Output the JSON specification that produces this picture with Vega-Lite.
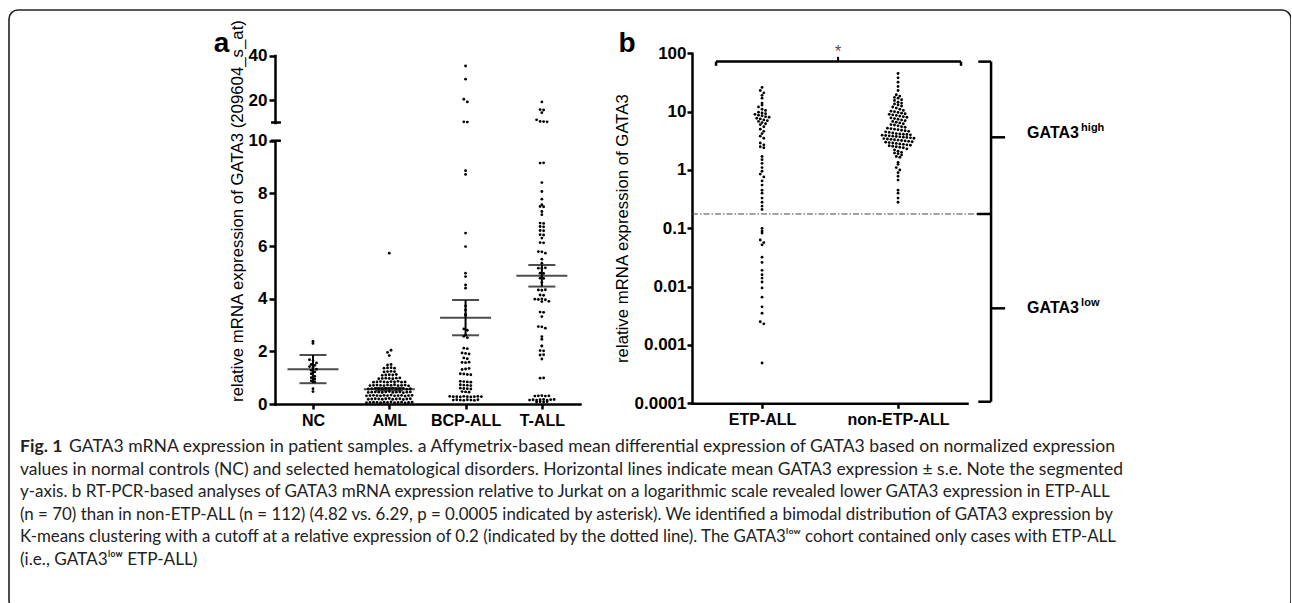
{
  "$schema": "https://vega.github.io/schema/vega-lite/v6.json",
  "width": 1282,
  "height": 600,
  "autosize": {"type": "none"},
  "padding": {"left": 9, "top": 10, "right": 0, "bottom": 0},
  "background": "white",
  "config": {
    "view": {"stroke": "#222222", "strokeWidth": 1.6, "cornerRadius": 9},
    "axis": {"grid": false, "domainColor": "black", "tickColor": "black", "labelColor": "black", "labelFont": "Liberation Sans", "labelFontWeight": "bold", "labelFlush": false, "labelOverlap": false, "labelBound": false, "domainCap": "square"},
    "text": {"font": "Liberation Sans"}
  },
  "datasets": {
    "pa": [
      {"g":"NC","v":2.38},{"g":"NC","v":2.3},{"g":"NC","v":1.68},{"g":"NC","v":1.64},{"g":"NC","v":1.56},{"g":"NC","v":1.5},{"g":"NC","v":1.47},{"g":"NC","v":1.42},{"g":"NC","v":1.4},{"g":"NC","v":1.32},{"g":"NC","v":1.28},{"g":"NC","v":1.22},{"g":"NC","v":1.15},{"g":"NC","v":1.05},{"g":"NC","v":1.0},{"g":"NC","v":0.95},{"g":"NC","v":0.88},{"g":"NC","v":0.84},{"g":"NC","v":0.58},{"g":"NC","v":0.47},
      {"g":"AML","v":0.05},{"g":"AML","v":0.06},{"g":"AML","v":0.07},{"g":"AML","v":0.06},{"g":"AML","v":0.05},{"g":"AML","v":0.07},{"g":"AML","v":0.06},{"g":"AML","v":0.08},{"g":"AML","v":0.05},{"g":"AML","v":0.06},{"g":"AML","v":0.07},{"g":"AML","v":0.04},{"g":"AML","v":0.06},{"g":"AML","v":0.07},
      {"g":"AML","v":0.18},{"g":"AML","v":0.19},{"g":"AML","v":0.2},{"g":"AML","v":0.19},{"g":"AML","v":0.18},{"g":"AML","v":0.2},{"g":"AML","v":0.21},{"g":"AML","v":0.18},{"g":"AML","v":0.19},{"g":"AML","v":0.2},{"g":"AML","v":0.17},{"g":"AML","v":0.19},{"g":"AML","v":0.2},
      {"g":"AML","v":0.31},{"g":"AML","v":0.32},{"g":"AML","v":0.33},{"g":"AML","v":0.32},{"g":"AML","v":0.31},{"g":"AML","v":0.33},{"g":"AML","v":0.32},{"g":"AML","v":0.34},{"g":"AML","v":0.31},{"g":"AML","v":0.32},{"g":"AML","v":0.33},{"g":"AML","v":0.3},{"g":"AML","v":0.32},{"g":"AML","v":0.33},
      {"g":"AML","v":0.44},{"g":"AML","v":0.45},{"g":"AML","v":0.46},{"g":"AML","v":0.45},{"g":"AML","v":0.44},{"g":"AML","v":0.46},{"g":"AML","v":0.47},{"g":"AML","v":0.44},{"g":"AML","v":0.45},{"g":"AML","v":0.46},{"g":"AML","v":0.43},{"g":"AML","v":0.45},{"g":"AML","v":0.46},
      {"g":"AML","v":0.57},{"g":"AML","v":0.58},{"g":"AML","v":0.59},{"g":"AML","v":0.58},{"g":"AML","v":0.57},{"g":"AML","v":0.59},{"g":"AML","v":0.58},{"g":"AML","v":0.6},{"g":"AML","v":0.57},{"g":"AML","v":0.58},{"g":"AML","v":0.59},{"g":"AML","v":0.56},{"g":"AML","v":0.58},
      {"g":"AML","v":0.7},{"g":"AML","v":0.71},{"g":"AML","v":0.72},{"g":"AML","v":0.71},{"g":"AML","v":0.7},{"g":"AML","v":0.72},{"g":"AML","v":0.71},{"g":"AML","v":0.73},{"g":"AML","v":0.7},{"g":"AML","v":0.71},{"g":"AML","v":0.72},{"g":"AML","v":0.69},
      {"g":"AML","v":0.83},{"g":"AML","v":0.84},{"g":"AML","v":0.85},{"g":"AML","v":0.84},{"g":"AML","v":0.83},{"g":"AML","v":0.85},{"g":"AML","v":0.84},{"g":"AML","v":0.86},{"g":"AML","v":0.83},{"g":"AML","v":0.84},
      {"g":"AML","v":0.96},{"g":"AML","v":0.97},{"g":"AML","v":0.98},{"g":"AML","v":0.97},{"g":"AML","v":0.96},{"g":"AML","v":0.98},{"g":"AML","v":0.99},
      {"g":"AML","v":1.09},{"g":"AML","v":1.1},{"g":"AML","v":1.11},{"g":"AML","v":1.1},{"g":"AML","v":1.12},
      {"g":"AML","v":1.22},{"g":"AML","v":1.23},{"g":"AML","v":1.24},{"g":"AML","v":1.23},
      {"g":"AML","v":1.36},{"g":"AML","v":1.37},{"g":"AML","v":1.38},{"g":"AML","v":1.36},
      {"g":"AML","v":1.48},{"g":"AML","v":1.5},{"g":"AML","v":1.84},{"g":"AML","v":1.96},{"g":"AML","v":2.04},{"g":"AML","v":5.73},
      {"g":"BCP-ALL","v":35.3},{"g":"BCP-ALL","v":29.4},{"g":"BCP-ALL","v":20.4},{"g":"BCP-ALL","v":19.2},{"g":"BCP-ALL","v":10.3},{"g":"BCP-ALL","v":10.2},{"g":"BCP-ALL","v":8.86},{"g":"BCP-ALL","v":8.72},{"g":"BCP-ALL","v":6.49},{"g":"BCP-ALL","v":5.98},{"g":"BCP-ALL","v":4.97},{"g":"BCP-ALL","v":4.84},{"g":"BCP-ALL","v":4.52},{"g":"BCP-ALL","v":4.4},{"g":"BCP-ALL","v":3.73},{"g":"BCP-ALL","v":3.57},{"g":"BCP-ALL","v":3.4},{"g":"BCP-ALL","v":3.36},{"g":"BCP-ALL","v":2.85},{"g":"BCP-ALL","v":2.8},{"g":"BCP-ALL","v":2.62},{"g":"BCP-ALL","v":2.57},{"g":"BCP-ALL","v":2.52},
      {"g":"BCP-ALL","v":2.12},{"g":"BCP-ALL","v":2.1},{"g":"BCP-ALL","v":1.94},{"g":"BCP-ALL","v":1.92},{"g":"BCP-ALL","v":1.9},{"g":"BCP-ALL","v":1.75},{"g":"BCP-ALL","v":1.72},{"g":"BCP-ALL","v":1.58},{"g":"BCP-ALL","v":1.57},{"g":"BCP-ALL","v":1.59},{"g":"BCP-ALL","v":1.31},{"g":"BCP-ALL","v":1.33},{"g":"BCP-ALL","v":1.35},{"g":"BCP-ALL","v":1.15},{"g":"BCP-ALL","v":1.14},{"g":"BCP-ALL","v":1.12},{"g":"BCP-ALL","v":1.11},{"g":"BCP-ALL","v":0.86},{"g":"BCP-ALL","v":0.85},{"g":"BCP-ALL","v":0.84},{"g":"BCP-ALL","v":0.83},{"g":"BCP-ALL","v":0.73},{"g":"BCP-ALL","v":0.72},{"g":"BCP-ALL","v":0.71},{"g":"BCP-ALL","v":0.7},{"g":"BCP-ALL","v":0.6},{"g":"BCP-ALL","v":0.59},{"g":"BCP-ALL","v":0.58},{"g":"BCP-ALL","v":0.57},{"g":"BCP-ALL","v":0.47},{"g":"BCP-ALL","v":0.46},{"g":"BCP-ALL","v":0.45},
      {"g":"BCP-ALL","v":0.29},{"g":"BCP-ALL","v":0.28},{"g":"BCP-ALL","v":0.28},{"g":"BCP-ALL","v":0.27},{"g":"BCP-ALL","v":0.29},{"g":"BCP-ALL","v":0.28},{"g":"BCP-ALL","v":0.27},{"g":"BCP-ALL","v":0.28},{"g":"BCP-ALL","v":0.29},{"g":"BCP-ALL","v":0.28},{"g":"BCP-ALL","v":0.15},{"g":"BCP-ALL","v":0.16},{"g":"BCP-ALL","v":0.15},{"g":"BCP-ALL","v":0.14},{"g":"BCP-ALL","v":0.16},{"g":"BCP-ALL","v":0.15},{"g":"BCP-ALL","v":0.14},{"g":"BCP-ALL","v":0.16},
      {"g":"T-ALL","v":19.2},{"g":"T-ALL","v":15.8},{"g":"T-ALL","v":15.6},{"g":"T-ALL","v":14.4},{"g":"T-ALL","v":11.2},{"g":"T-ALL","v":10.5},{"g":"T-ALL","v":10.4},{"g":"T-ALL","v":10.3},
      {"g":"T-ALL","v":9.15},{"g":"T-ALL","v":9.16},{"g":"T-ALL","v":8.41},{"g":"T-ALL","v":8.07},{"g":"T-ALL","v":7.78},{"g":"T-ALL","v":7.57},{"g":"T-ALL","v":7.5},{"g":"T-ALL","v":7.49},{"g":"T-ALL","v":7.31},{"g":"T-ALL","v":7.19},{"g":"T-ALL","v":6.87},{"g":"T-ALL","v":6.86},{"g":"T-ALL","v":6.74},{"g":"T-ALL","v":6.73},{"g":"T-ALL","v":6.59},{"g":"T-ALL","v":6.58},{"g":"T-ALL","v":6.43},{"g":"T-ALL","v":6.42},{"g":"T-ALL","v":6.3},{"g":"T-ALL","v":6.13},{"g":"T-ALL","v":6.12},{"g":"T-ALL","v":5.79},{"g":"T-ALL","v":5.78},{"g":"T-ALL","v":5.73},{"g":"T-ALL","v":5.5},{"g":"T-ALL","v":5.35},{"g":"T-ALL","v":5.16},{"g":"T-ALL","v":5.15},{"g":"T-ALL","v":5.17},{"g":"T-ALL","v":4.97},{"g":"T-ALL","v":4.96},{"g":"T-ALL","v":4.78},{"g":"T-ALL","v":4.77},{"g":"T-ALL","v":4.61},
      {"g":"T-ALL","v":4.33},{"g":"T-ALL","v":4.32},{"g":"T-ALL","v":4.34},{"g":"T-ALL","v":4.14},{"g":"T-ALL","v":4.13},{"g":"T-ALL","v":3.98},{"g":"T-ALL","v":3.97},{"g":"T-ALL","v":3.99},{"g":"T-ALL","v":3.96},{"g":"T-ALL","v":3.9},{"g":"T-ALL","v":3.89},{"g":"T-ALL","v":3.49},{"g":"T-ALL","v":3.48},{"g":"T-ALL","v":3.32},{"g":"T-ALL","v":2.94},{"g":"T-ALL","v":2.93},{"g":"T-ALL","v":2.88},{"g":"T-ALL","v":2.56},{"g":"T-ALL","v":2.46},{"g":"T-ALL","v":2.2},{"g":"T-ALL","v":2.21},{"g":"T-ALL","v":2.03},{"g":"T-ALL","v":2.02},{"g":"T-ALL","v":1.86},{"g":"T-ALL","v":1.87},{"g":"T-ALL","v":1.71},{"g":"T-ALL","v":0.98},{"g":"T-ALL","v":0.99},
      {"g":"T-ALL","v":0.3},{"g":"T-ALL","v":0.31},{"g":"T-ALL","v":0.32},{"g":"T-ALL","v":0.3},{"g":"T-ALL","v":0.31},{"g":"T-ALL","v":0.15},{"g":"T-ALL","v":0.16},{"g":"T-ALL","v":0.15},{"g":"T-ALL","v":0.16},{"g":"T-ALL","v":0.17},{"g":"T-ALL","v":0.15},{"g":"T-ALL","v":0.16},{"g":"T-ALL","v":0.17},{"g":"T-ALL","v":0.08},{"g":"T-ALL","v":0.09},{"g":"T-ALL","v":0.08},{"g":"T-ALL","v":0.09}
    ],
    "pam": [
      {"g":"NC","m":1.32,"lo":0.79,"hi":1.86},
      {"g":"AML","m":0.56,"lo":0.51,"hi":0.61},
      {"g":"BCP-ALL","m":3.28,"lo":2.61,"hi":3.95},
      {"g":"T-ALL","m":4.87,"lo":4.46,"hi":5.28}
    ],
    "pb": [
      {"g":"ETP-ALL","v":26},{"g":"ETP-ALL","v":23},{"g":"ETP-ALL","v":21},{"g":"ETP-ALL","v":19},{"g":"ETP-ALL","v":17},{"g":"ETP-ALL","v":14},{"g":"ETP-ALL","v":13},{"g":"ETP-ALL","v":12},{"g":"ETP-ALL","v":11},{"g":"ETP-ALL","v":10.5},
      {"g":"ETP-ALL","v":9.8},{"g":"ETP-ALL","v":9.5},{"g":"ETP-ALL","v":9.2},{"g":"ETP-ALL","v":9},{"g":"ETP-ALL","v":8.7},{"g":"ETP-ALL","v":8.5},{"g":"ETP-ALL","v":8.2},{"g":"ETP-ALL","v":8},{"g":"ETP-ALL","v":7.7},{"g":"ETP-ALL","v":7.5},{"g":"ETP-ALL","v":7.2},{"g":"ETP-ALL","v":7},{"g":"ETP-ALL","v":6.8},{"g":"ETP-ALL","v":6.5},{"g":"ETP-ALL","v":6.2},{"g":"ETP-ALL","v":6},
      {"g":"ETP-ALL","v":5.5},{"g":"ETP-ALL","v":5},{"g":"ETP-ALL","v":4.6},{"g":"ETP-ALL","v":4.2},{"g":"ETP-ALL","v":3.8},{"g":"ETP-ALL","v":3.5},{"g":"ETP-ALL","v":2.9},{"g":"ETP-ALL","v":2.7},{"g":"ETP-ALL","v":2.5},{"g":"ETP-ALL","v":2.4},{"g":"ETP-ALL","v":1.7},{"g":"ETP-ALL","v":1.5},{"g":"ETP-ALL","v":1.3},{"g":"ETP-ALL","v":1.1},
      {"g":"ETP-ALL","v":0.95},{"g":"ETP-ALL","v":0.85},{"g":"ETP-ALL","v":0.76},{"g":"ETP-ALL","v":0.65},{"g":"ETP-ALL","v":0.55},{"g":"ETP-ALL","v":0.45},{"g":"ETP-ALL","v":0.4},{"g":"ETP-ALL","v":0.33},{"g":"ETP-ALL","v":0.28},{"g":"ETP-ALL","v":0.24},{"g":"ETP-ALL","v":0.21},
      {"g":"ETP-ALL","v":0.1},{"g":"ETP-ALL","v":0.09},{"g":"ETP-ALL","v":0.083},{"g":"ETP-ALL","v":0.063},{"g":"ETP-ALL","v":0.057},{"g":"ETP-ALL","v":0.052},{"g":"ETP-ALL","v":0.032},{"g":"ETP-ALL","v":0.026},{"g":"ETP-ALL","v":0.019},{"g":"ETP-ALL","v":0.016},{"g":"ETP-ALL","v":0.014},{"g":"ETP-ALL","v":0.012},{"g":"ETP-ALL","v":0.0095},{"g":"ETP-ALL","v":0.0066},{"g":"ETP-ALL","v":0.0045},{"g":"ETP-ALL","v":0.0035},{"g":"ETP-ALL","v":0.0025},{"g":"ETP-ALL","v":0.0023},{"g":"ETP-ALL","v":0.00049},
      {"g":"non-ETP-ALL","v":45},{"g":"non-ETP-ALL","v":38},{"g":"non-ETP-ALL","v":32},{"g":"non-ETP-ALL","v":27},{"g":"non-ETP-ALL","v":23},{"g":"non-ETP-ALL","v":19.5},{"g":"non-ETP-ALL","v":18.5},{"g":"non-ETP-ALL","v":17.5},{"g":"non-ETP-ALL","v":17},{"g":"non-ETP-ALL","v":16},
      {"g":"non-ETP-ALL","v":15.5},{"g":"non-ETP-ALL","v":14.5},{"g":"non-ETP-ALL","v":14},{"g":"non-ETP-ALL","v":13.5},{"g":"non-ETP-ALL","v":13},{"g":"non-ETP-ALL","v":12.5},{"g":"non-ETP-ALL","v":12},{"g":"non-ETP-ALL","v":11.5},{"g":"non-ETP-ALL","v":11},{"g":"non-ETP-ALL","v":10.5},
      {"g":"non-ETP-ALL","v":10.2},{"g":"non-ETP-ALL","v":10},{"g":"non-ETP-ALL","v":9.7},{"g":"non-ETP-ALL","v":9.4},{"g":"non-ETP-ALL","v":9.2},{"g":"non-ETP-ALL","v":9},{"g":"non-ETP-ALL","v":8.8},{"g":"non-ETP-ALL","v":8.6},{"g":"non-ETP-ALL","v":8.4},{"g":"non-ETP-ALL","v":8.2},
      {"g":"non-ETP-ALL","v":8},{"g":"non-ETP-ALL","v":7.8},{"g":"non-ETP-ALL","v":7.6},{"g":"non-ETP-ALL","v":7.4},{"g":"non-ETP-ALL","v":7.2},{"g":"non-ETP-ALL","v":7},{"g":"non-ETP-ALL","v":6.8},{"g":"non-ETP-ALL","v":6.6},{"g":"non-ETP-ALL","v":6.4},{"g":"non-ETP-ALL","v":6.2},
      {"g":"non-ETP-ALL","v":6},{"g":"non-ETP-ALL","v":5.9},{"g":"non-ETP-ALL","v":5.7},{"g":"non-ETP-ALL","v":5.5},{"g":"non-ETP-ALL","v":5.4},{"g":"non-ETP-ALL","v":5.2},{"g":"non-ETP-ALL","v":5.1},{"g":"non-ETP-ALL","v":5},{"g":"non-ETP-ALL","v":4.9},{"g":"non-ETP-ALL","v":4.8},
      {"g":"non-ETP-ALL","v":4.7},{"g":"non-ETP-ALL","v":4.6},{"g":"non-ETP-ALL","v":4.5},{"g":"non-ETP-ALL","v":4.4},{"g":"non-ETP-ALL","v":4.3},{"g":"non-ETP-ALL","v":4.2},{"g":"non-ETP-ALL","v":4.15},{"g":"non-ETP-ALL","v":4.1},{"g":"non-ETP-ALL","v":4.05},{"g":"non-ETP-ALL","v":4},
      {"g":"non-ETP-ALL","v":3.95},{"g":"non-ETP-ALL","v":3.9},{"g":"non-ETP-ALL","v":3.85},{"g":"non-ETP-ALL","v":3.8},{"g":"non-ETP-ALL","v":3.75},{"g":"non-ETP-ALL","v":3.7},{"g":"non-ETP-ALL","v":3.65},{"g":"non-ETP-ALL","v":3.6},{"g":"non-ETP-ALL","v":3.55},
      {"g":"non-ETP-ALL","v":3.5},{"g":"non-ETP-ALL","v":3.45},{"g":"non-ETP-ALL","v":3.4},{"g":"non-ETP-ALL","v":3.35},{"g":"non-ETP-ALL","v":3.3},{"g":"non-ETP-ALL","v":3.25},{"g":"non-ETP-ALL","v":3.2},{"g":"non-ETP-ALL","v":3.15},{"g":"non-ETP-ALL","v":3.1},{"g":"non-ETP-ALL","v":3.05},
      {"g":"non-ETP-ALL","v":3},{"g":"non-ETP-ALL","v":2.95},{"g":"non-ETP-ALL","v":2.9},{"g":"non-ETP-ALL","v":2.85},{"g":"non-ETP-ALL","v":2.8},{"g":"non-ETP-ALL","v":2.75},{"g":"non-ETP-ALL","v":2.7},{"g":"non-ETP-ALL","v":2.65},{"g":"non-ETP-ALL","v":2.6},
      {"g":"non-ETP-ALL","v":2.55},{"g":"non-ETP-ALL","v":2.5},{"g":"non-ETP-ALL","v":2.45},{"g":"non-ETP-ALL","v":2.4},{"g":"non-ETP-ALL","v":2.3},{"g":"non-ETP-ALL","v":2.2},{"g":"non-ETP-ALL","v":2.1},{"g":"non-ETP-ALL","v":2},{"g":"non-ETP-ALL","v":1.95},{"g":"non-ETP-ALL","v":1.9},
      {"g":"non-ETP-ALL","v":1.8},{"g":"non-ETP-ALL","v":1.7},{"g":"non-ETP-ALL","v":1.65},{"g":"non-ETP-ALL","v":1.35},{"g":"non-ETP-ALL","v":1.25},{"g":"non-ETP-ALL","v":1.1},{"g":"non-ETP-ALL","v":1},{"g":"non-ETP-ALL","v":0.9},{"g":"non-ETP-ALL","v":0.78},{"g":"non-ETP-ALL","v":0.67},
      {"g":"non-ETP-ALL","v":0.45},{"g":"non-ETP-ALL","v":0.4},{"g":"non-ETP-ALL","v":0.33},{"g":"non-ETP-ALL","v":0.28}
    ],
    "cap": [
      {"ln":1,"t":"GATA3 mRNA expression in patient samples. a Affymetrix-based mean differential expression of GATA3 based on normalized expression"},
      {"ln":2,"t":"values in normal controls (NC) and selected hematological disorders. Horizontal lines indicate mean GATA3 expression ± s.e. Note the segmented"},
      {"ln":3,"t":"y-axis. b RT-PCR-based analyses of GATA3 mRNA expression relative to Jurkat on a logarithmic scale revealed lower GATA3 expression in ETP-ALL"},
      {"ln":4,"t":"(n = 70) than in non-ETP-ALL (n = 112) (4.82 vs. 6.29, p = 0.0005 indicated by asterisk). We identified a bimodal distribution of GATA3 expression by"},
      {"ln":5,"t":"K-means clustering with a cutoff at a relative expression of 0.2 (indicated by the dotted line). The GATA3ˡᵒʷ cohort contained only cases with ETP-ALL"},
      {"ln":6,"t":"(i.e., GATA3ˡᵒʷ ETP-ALL)"}
    ]
  },
  "resolve": {"scale": {"x": "independent", "y": "independent"}, "axis": {"x": "independent", "y": "independent"}},
  "layer": [
    {
      "layer": [
        {
          "data": {"name": "pa"},
          "transform": [
            {"filter": "datum.v <= 10"},
            {"calculate": "indexof(['NC','AML','BCP-ALL','T-ALL'], datum.g)", "as": "gi"},
            {"calculate": "floor(datum.v / 0.13)", "as": "r"},
            {"joinaggregate": [{"op": "count", "as": "n"}], "groupby": ["g", "r"]},
            {"window": [{"op": "row_number", "as": "k"}], "groupby": ["g", "r"]},
            {"calculate": "datum.gi + (datum.k - 1 - (datum.n - 1) / 2) * 0.046", "as": "xp"}
          ],
          "mark": {"type": "circle", "size": 8, "color": "black", "opacity": 1},
          "encoding": {
            "x": {"field": "xp", "type": "quantitative", "scale": {"domain": [-0.498, 3.5], "range": [266, 571], "nice": false, "zero": false},
              "axis": {"orient": "bottom", "offset": -206, "values": [0, 1, 2, 3], "labelExpr": "['NC','AML','BCP-ALL','T-ALL'][datum.value]", "title": null, "domainWidth": 2.5, "tickWidth": 2.5, "tickSize": 5, "labelFontSize": 16, "labelPadding": 3}},
            "y": {"field": "v", "type": "quantitative", "scale": {"domain": [0, 10], "range": [394, 130.7], "nice": false, "zero": false},
              "axis": {"orient": "left", "offset": -266, "values": [0, 2, 4, 6, 8, 10], "format": "d", "title": null, "domainWidth": 2.5, "tickWidth": 2.5, "tickSize": 6, "labelFontSize": 17, "labelPadding": 2}}
          }
        },
        {
          "data": {"name": "pam"},
          "transform": [{"calculate": "indexof(['NC','AML','BCP-ALL','T-ALL'], datum.g)", "as": "gi"}],
          "mark": {"type": "tick", "orient": "horizontal", "size": 51, "thickness": 2, "color": "black"},
          "encoding": {
            "x": {"field": "gi", "type": "quantitative", "scale": {"domain": [-0.498, 3.5], "range": [266, 571], "nice": false, "zero": false}},
            "y": {"field": "m", "type": "quantitative", "scale": {"domain": [0, 10], "range": [394, 130.7], "nice": false, "zero": false}}
          }
        },
        {
          "data": {"name": "pam"},
          "transform": [
            {"calculate": "indexof(['NC','AML','BCP-ALL','T-ALL'], datum.g)", "as": "gi"},
            {"fold": ["lo", "hi"], "as": ["bound", "bv"]}
          ],
          "mark": {"type": "tick", "orient": "horizontal", "size": 27, "thickness": 2, "color": "black"},
          "encoding": {
            "x": {"field": "gi", "type": "quantitative", "scale": {"domain": [-0.498, 3.5], "range": [266, 571], "nice": false, "zero": false}},
            "y": {"field": "bv", "type": "quantitative", "scale": {"domain": [0, 10], "range": [394, 130.7], "nice": false, "zero": false}}
          }
        },
        {
          "data": {"name": "pam"},
          "transform": [{"calculate": "indexof(['NC','AML','BCP-ALL','T-ALL'], datum.g)", "as": "gi"}],
          "mark": {"type": "rule", "strokeWidth": 2, "color": "black"},
          "encoding": {
            "x": {"field": "gi", "type": "quantitative", "scale": {"domain": [-0.498, 3.5], "range": [266, 571], "nice": false, "zero": false}},
            "y": {"field": "lo", "type": "quantitative", "scale": {"domain": [0, 10], "range": [394, 130.7], "nice": false, "zero": false}},
            "y2": {"field": "hi"}
          }
        },
        {
          "data": {"values": [{}]},
          "mark": {"type": "rule", "strokeWidth": 2.5, "color": "black"},
          "encoding": {
            "x": {"datum": -0.55, "type": "quantitative", "scale": {"domain": [-0.498, 3.5], "range": [266, 571], "nice": false, "zero": false}},
            "x2": {"datum": -0.42},
            "y": {"datum": 10, "type": "quantitative", "scale": {"domain": [0, 10], "range": [394, 130.7], "nice": false, "zero": false}}
          }
        },
        {
          "data": {"values": [{}]},
          "mark": {"type": "text", "angle": 270, "align": "center", "baseline": "middle", "fontSize": 16.8, "font": "Liberation Sans", "color": "black"},
          "encoding": {
            "x": {"datum": -0.983, "type": "quantitative", "scale": {"domain": [-0.498, 3.5], "range": [266, 571], "nice": false, "zero": false}},
            "y": {"datum": 7.33, "type": "quantitative", "scale": {"domain": [0, 10], "range": [394, 130.7], "nice": false, "zero": false}},
            "text": {"value": "relative mRNA expression of GATA3 (209604_s_at)"}
          }
        }
      ]
    },
    {
      "layer": [
        {
          "data": {"name": "pa"},
          "transform": [
            {"filter": "datum.v > 10"},
            {"calculate": "indexof(['NC','AML','BCP-ALL','T-ALL'], datum.g)", "as": "gi"},
            {"calculate": "floor((datum.v - 10) / 1.5)", "as": "r"},
            {"joinaggregate": [{"op": "count", "as": "n"}], "groupby": ["g", "r"]},
            {"window": [{"op": "row_number", "as": "k"}], "groupby": ["g", "r"]},
            {"calculate": "datum.gi + (datum.k - 1 - (datum.n - 1) / 2) * 0.046", "as": "xp"}
          ],
          "mark": {"type": "circle", "size": 8, "color": "black", "opacity": 1},
          "encoding": {
            "x": {"field": "xp", "type": "quantitative", "scale": {"domain": [-0.498, 3.5], "range": [266, 571], "nice": false, "zero": false}, "axis": null},
            "y": {"field": "v", "type": "quantitative", "scale": {"domain": [10, 40], "range": [112.5, 45.5], "nice": false, "zero": false},
              "axis": {"orient": "left", "offset": -266, "values": [20, 40], "format": "d", "title": null, "domainWidth": 2.5, "tickWidth": 2.5, "tickSize": 6, "labelFontSize": 17, "labelPadding": 2}}
          }
        },
        {
          "data": {"values": [{}]},
          "mark": {"type": "rule", "strokeWidth": 2.5, "color": "black"},
          "encoding": {
            "x": {"datum": -0.55, "type": "quantitative", "scale": {"domain": [-0.498, 3.5], "range": [266, 571], "nice": false, "zero": false}},
            "x2": {"datum": -0.42},
            "y": {"datum": 10, "type": "quantitative", "scale": {"domain": [10, 40], "range": [112.5, 45.5], "nice": false, "zero": false}}
          }
        },
        {
          "data": {"values": [{}]},
          "mark": {"type": "text", "align": "center", "baseline": "alphabetic", "fontSize": 28, "fontWeight": "bold", "font": "Liberation Sans", "color": "black"},
          "encoding": {
            "x": {"datum": -1.2, "type": "quantitative", "scale": {"domain": [-0.498, 3.5], "range": [266, 571], "nice": false, "zero": false}},
            "y": {"datum": 41.5, "type": "quantitative", "scale": {"domain": [10, 40], "range": [112.5, 45.5], "nice": false, "zero": false}},
            "text": {"value": "a"}
          }
        }
      ]
    },
    {
      "layer": [
        {
          "data": {"name": "pb"},
          "transform": [
            {"calculate": "indexof(['ETP-ALL','non-ETP-ALL'], datum.g)", "as": "gi"},
            {"calculate": "floor(log(datum.v) / LN10 / 0.06)", "as": "r"},
            {"joinaggregate": [{"op": "count", "as": "n"}], "groupby": ["g", "r"]},
            {"window": [{"op": "row_number", "as": "k"}], "groupby": ["g", "r"]},
            {"calculate": "datum.gi + (datum.k - 1 - (datum.n - 1) / 2) * 0.026", "as": "xp"}
          ],
          "mark": {"type": "circle", "size": 8, "color": "black", "opacity": 1},
          "encoding": {
            "x": {"field": "xp", "type": "quantitative", "scale": {"domain": [-0.515, 1.507], "range": [683, 958], "nice": false, "zero": false},
              "axis": {"orient": "bottom", "offset": -206.7, "values": [0, 1], "labelExpr": "['ETP-ALL','non-ETP-ALL'][datum.value]", "title": null, "domainWidth": 2.5, "tickWidth": 2.5, "tickSize": 5, "labelFontSize": 16, "labelPadding": 3}},
            "y": {"field": "v", "type": "quantitative", "scale": {"type": "log", "domain": [0.0001, 100], "range": [393.3, 43.3], "nice": false},
              "axis": {"orient": "left", "offset": -683, "values": [0.0001, 0.001, 0.01, 0.1, 1, 10, 100], "format": "~g", "title": null, "domainWidth": 2.5, "tickWidth": 2.5, "tickSize": 5, "labelFontSize": 17, "labelPadding": 1}}
          }
        },
        {
          "data": {"values": [{}]},
          "mark": {"type": "rule", "strokeWidth": 1, "color": "#444444", "strokeDash": [6, 2, 1.5, 2]},
          "encoding": {
            "x": {"datum": -0.515, "type": "quantitative", "scale": {"domain": [-0.515, 1.507], "range": [683, 958], "nice": false, "zero": false}},
            "x2": {"datum": 1.581},
            "y": {"datum": 0.176, "type": "quantitative", "scale": {"type": "log", "domain": [0.0001, 100], "range": [393.3, 43.3], "nice": false}}
          }
        },
        {
          "data": {"values": [{}]},
          "mark": {"type": "rule", "strokeWidth": 2.5, "color": "black"},
          "encoding": {
            "x": {"datum": -0.338, "type": "quantitative", "scale": {"domain": [-0.515, 1.507], "range": [683, 958], "nice": false, "zero": false}},
            "x2": {"datum": 1.463},
            "y": {"datum": 72, "type": "quantitative", "scale": {"type": "log", "domain": [0.0001, 100], "range": [393.3, 43.3], "nice": false}}
          }
        },
        {
          "data": {"values": [{}]},
          "mark": {"type": "rule", "strokeWidth": 2.5, "color": "black"},
          "encoding": {
            "x": {"datum": -0.338, "type": "quantitative", "scale": {"domain": [-0.515, 1.507], "range": [683, 958], "nice": false, "zero": false}},
            "y": {"datum": 72, "type": "quantitative", "scale": {"type": "log", "domain": [0.0001, 100], "range": [393.3, 43.3], "nice": false}},
            "y2": {"datum": 61}
          }
        },
        {
          "data": {"values": [{}]},
          "mark": {"type": "rule", "strokeWidth": 2.5, "color": "black"},
          "encoding": {
            "x": {"datum": 1.463, "type": "quantitative", "scale": {"domain": [-0.515, 1.507], "range": [683, 958], "nice": false, "zero": false}},
            "y": {"datum": 72, "type": "quantitative", "scale": {"type": "log", "domain": [0.0001, 100], "range": [393.3, 43.3], "nice": false}},
            "y2": {"datum": 61}
          }
        },
        {
          "data": {"values": [{}]},
          "mark": {"type": "rule", "strokeWidth": 2, "color": "black"},
          "encoding": {
            "x": {"datum": 0.559, "type": "quantitative", "scale": {"domain": [-0.515, 1.507], "range": [683, 958], "nice": false, "zero": false}},
            "y": {"datum": 72, "type": "quantitative", "scale": {"type": "log", "domain": [0.0001, 100], "range": [393.3, 43.3], "nice": false}},
            "y2": {"datum": 87}
          }
        },
        {
          "data": {"values": [{}]},
          "mark": {"type": "text", "align": "center", "baseline": "alphabetic", "fontSize": 17, "font": "Liberation Sans", "color": "#555555"},
          "encoding": {
            "x": {"datum": 0.559, "type": "quantitative", "scale": {"domain": [-0.515, 1.507], "range": [683, 958], "nice": false, "zero": false}},
            "y": {"datum": 86, "type": "quantitative", "scale": {"type": "log", "domain": [0.0001, 100], "range": [393.3, 43.3], "nice": false}},
            "text": {"value": "*"}
          }
        },
        {
          "data": {"values": [{}]},
          "mark": {"type": "rule", "strokeWidth": 2.5, "color": "black"},
          "encoding": {
            "x": {"datum": 1.684, "type": "quantitative", "scale": {"domain": [-0.515, 1.507], "range": [683, 958], "nice": false, "zero": false}},
            "y": {"datum": 72, "type": "quantitative", "scale": {"type": "log", "domain": [0.0001, 100], "range": [393.3, 43.3], "nice": false}},
            "y2": {"datum": 0.0001064}
          }
        },
        {
          "data": {"values": [{}]},
          "mark": {"type": "rule", "strokeWidth": 2.5, "color": "black"},
          "encoding": {
            "x": {"datum": 1.59, "type": "quantitative", "scale": {"domain": [-0.515, 1.507], "range": [683, 958], "nice": false, "zero": false}},
            "x2": {"datum": 1.684},
            "y": {"datum": 72, "type": "quantitative", "scale": {"type": "log", "domain": [0.0001, 100], "range": [393.3, 43.3], "nice": false}}
          }
        },
        {
          "data": {"values": [{}]},
          "mark": {"type": "rule", "strokeWidth": 2.5, "color": "black"},
          "encoding": {
            "x": {"datum": 1.59, "type": "quantitative", "scale": {"domain": [-0.515, 1.507], "range": [683, 958], "nice": false, "zero": false}},
            "x2": {"datum": 1.684},
            "y": {"datum": 0.0001064, "type": "quantitative", "scale": {"type": "log", "domain": [0.0001, 100], "range": [393.3, 43.3], "nice": false}}
          }
        },
        {
          "data": {"values": [{}]},
          "mark": {"type": "rule", "strokeWidth": 2.5, "color": "black"},
          "encoding": {
            "x": {"datum": 1.581, "type": "quantitative", "scale": {"domain": [-0.515, 1.507], "range": [683, 958], "nice": false, "zero": false}},
            "x2": {"datum": 1.684},
            "y": {"datum": 0.176, "type": "quantitative", "scale": {"type": "log", "domain": [0.0001, 100], "range": [393.3, 43.3], "nice": false}}
          }
        },
        {
          "data": {"values": [{}]},
          "mark": {"type": "rule", "strokeWidth": 2.5, "color": "black"},
          "encoding": {
            "x": {"datum": 1.684, "type": "quantitative", "scale": {"domain": [-0.515, 1.507], "range": [683, 958], "nice": false, "zero": false}},
            "x2": {"datum": 1.787},
            "y": {"datum": 3.63, "type": "quantitative", "scale": {"type": "log", "domain": [0.0001, 100], "range": [393.3, 43.3], "nice": false}}
          }
        },
        {
          "data": {"values": [{}]},
          "mark": {"type": "rule", "strokeWidth": 2.5, "color": "black"},
          "encoding": {
            "x": {"datum": 1.684, "type": "quantitative", "scale": {"domain": [-0.515, 1.507], "range": [683, 958], "nice": false, "zero": false}},
            "x2": {"datum": 1.787},
            "y": {"datum": 0.004246, "type": "quantitative", "scale": {"type": "log", "domain": [0.0001, 100], "range": [393.3, 43.3], "nice": false}}
          }
        },
        {
          "data": {"values": [{}]},
          "mark": {"type": "text", "align": "left", "baseline": "alphabetic", "fontSize": 16, "fontWeight": "bold", "font": "Liberation Sans", "color": "black"},
          "encoding": {
            "x": {"datum": 1.949, "type": "quantitative", "scale": {"domain": [-0.515, 1.507], "range": [683, 958], "nice": false, "zero": false}},
            "y": {"datum": 3.49, "type": "quantitative", "scale": {"type": "log", "domain": [0.0001, 100], "range": [393.3, 43.3], "nice": false}},
            "text": {"value": "GATA3"}
          }
        },
        {
          "data": {"values": [{}]},
          "mark": {"type": "text", "align": "left", "baseline": "alphabetic", "fontSize": 11, "fontWeight": "bold", "font": "Liberation Sans", "color": "black", "dx": 54, "dy": -7},
          "encoding": {
            "x": {"datum": 1.949, "type": "quantitative", "scale": {"domain": [-0.515, 1.507], "range": [683, 958], "nice": false, "zero": false}},
            "y": {"datum": 3.49, "type": "quantitative", "scale": {"type": "log", "domain": [0.0001, 100], "range": [393.3, 43.3], "nice": false}},
            "text": {"value": "high"}
          }
        },
        {
          "data": {"values": [{}]},
          "mark": {"type": "text", "align": "left", "baseline": "alphabetic", "fontSize": 16, "fontWeight": "bold", "font": "Liberation Sans", "color": "black"},
          "encoding": {
            "x": {"datum": 1.949, "type": "quantitative", "scale": {"domain": [-0.515, 1.507], "range": [683, 958], "nice": false, "zero": false}},
            "y": {"datum": 0.00349, "type": "quantitative", "scale": {"type": "log", "domain": [0.0001, 100], "range": [393.3, 43.3], "nice": false}},
            "text": {"value": "GATA3"}
          }
        },
        {
          "data": {"values": [{}]},
          "mark": {"type": "text", "align": "left", "baseline": "alphabetic", "fontSize": 11, "fontWeight": "bold", "font": "Liberation Sans", "color": "black", "dx": 54, "dy": -7},
          "encoding": {
            "x": {"datum": 1.949, "type": "quantitative", "scale": {"domain": [-0.515, 1.507], "range": [683, 958], "nice": false, "zero": false}},
            "y": {"datum": 0.00349, "type": "quantitative", "scale": {"type": "log", "domain": [0.0001, 100], "range": [393.3, 43.3], "nice": false}},
            "text": {"value": "low"}
          }
        },
        {
          "data": {"values": [{}]},
          "mark": {"type": "text", "angle": 270, "align": "center", "baseline": "middle", "fontSize": 16.8, "font": "Liberation Sans", "color": "black"},
          "encoding": {
            "x": {"datum": -1.022, "type": "quantitative", "scale": {"domain": [-0.515, 1.507], "range": [683, 958], "nice": false, "zero": false}},
            "y": {"datum": 0.099, "type": "quantitative", "scale": {"type": "log", "domain": [0.0001, 100], "range": [393.3, 43.3], "nice": false}},
            "text": {"value": "relative mRNA expression of GATA3"}
          }
        },
        {
          "data": {"values": [{}]},
          "mark": {"type": "text", "align": "center", "baseline": "alphabetic", "fontSize": 28, "fontWeight": "bold", "font": "Liberation Sans", "color": "black"},
          "encoding": {
            "x": {"datum": -0.993, "type": "quantitative", "scale": {"domain": [-0.515, 1.507], "range": [683, 958], "nice": false, "zero": false}},
            "y": {"datum": 105, "type": "quantitative", "scale": {"type": "log", "domain": [0.0001, 100], "range": [393.3, 43.3], "nice": false}},
            "text": {"value": "b"}
          }
        }
      ]
    },
    {
      "layer": [
        {
          "data": {"values": [{}]},
          "mark": {"type": "text", "align": "left", "baseline": "middle", "fontSize": 17.6, "fontWeight": "bold", "font": "Lato", "color": "#222222"},
          "encoding": {
            "x": {"datum": 0, "type": "quantitative", "scale": {"domain": [0, 1], "range": [11, 1281]}, "axis": null},
            "y": {"datum": 1, "type": "quantitative", "scale": {"domain": [1, 6], "range": [437, 550]}, "axis": null},
            "text": {"value": "Fig. 1"}
          }
        },
        {
          "data": {"name": "cap"},
          "transform": [{"filter": "datum.ln == 1"}],
          "mark": {"type": "text", "align": "left", "baseline": "middle", "fontSize": 17.6, "font": "Lato", "color": "#222222", "dx": 49},
          "encoding": {
            "x": {"datum": 0, "type": "quantitative", "scale": {"domain": [0, 1], "range": [11, 1281]}, "axis": null},
            "y": {"field": "ln", "type": "quantitative", "scale": {"domain": [1, 6], "range": [437, 550]}, "axis": null},
            "text": {"field": "t"}
          }
        },
        {
          "data": {"name": "cap"},
          "transform": [{"filter": "datum.ln == 2"}],
          "mark": {"type": "text", "align": "left", "baseline": "middle", "fontSize": 17.45, "font": "Lato", "color": "#222222"},
          "encoding": {
            "x": {"datum": 0, "type": "quantitative", "scale": {"domain": [0, 1], "range": [11, 1281]}, "axis": null},
            "y": {"field": "ln", "type": "quantitative", "scale": {"domain": [1, 6], "range": [437, 550]}, "axis": null},
            "text": {"field": "t"}
          }
        },
        {
          "data": {"name": "cap"},
          "transform": [{"filter": "datum.ln == 3"}],
          "mark": {"type": "text", "align": "left", "baseline": "middle", "fontSize": 17.0, "font": "Lato", "color": "#222222"},
          "encoding": {
            "x": {"datum": 0, "type": "quantitative", "scale": {"domain": [0, 1], "range": [11, 1281]}, "axis": null},
            "y": {"field": "ln", "type": "quantitative", "scale": {"domain": [1, 6], "range": [437, 550]}, "axis": null},
            "text": {"field": "t"}
          }
        },
        {
          "data": {"name": "cap"},
          "transform": [{"filter": "datum.ln == 4"}],
          "mark": {"type": "text", "align": "left", "baseline": "middle", "fontSize": 16.9, "font": "Lato", "color": "#222222"},
          "encoding": {
            "x": {"datum": 0, "type": "quantitative", "scale": {"domain": [0, 1], "range": [11, 1281]}, "axis": null},
            "y": {"field": "ln", "type": "quantitative", "scale": {"domain": [1, 6], "range": [437, 550]}, "axis": null},
            "text": {"field": "t"}
          }
        },
        {
          "data": {"name": "cap"},
          "transform": [{"filter": "datum.ln == 5"}],
          "mark": {"type": "text", "align": "left", "baseline": "middle", "fontSize": 16.85, "font": "Lato", "color": "#222222"},
          "encoding": {
            "x": {"datum": 0, "type": "quantitative", "scale": {"domain": [0, 1], "range": [11, 1281]}, "axis": null},
            "y": {"field": "ln", "type": "quantitative", "scale": {"domain": [1, 6], "range": [437, 550]}, "axis": null},
            "text": {"field": "t"}
          }
        },
        {
          "data": {"name": "cap"},
          "transform": [{"filter": "datum.ln == 6"}],
          "mark": {"type": "text", "align": "left", "baseline": "middle", "fontSize": 17.2, "font": "Lato", "color": "#222222"},
          "encoding": {
            "x": {"datum": 0, "type": "quantitative", "scale": {"domain": [0, 1], "range": [11, 1281]}, "axis": null},
            "y": {"field": "ln", "type": "quantitative", "scale": {"domain": [1, 6], "range": [437, 550]}, "axis": null},
            "text": {"field": "t"}
          }
        }
      ]
    }
  ]
}
